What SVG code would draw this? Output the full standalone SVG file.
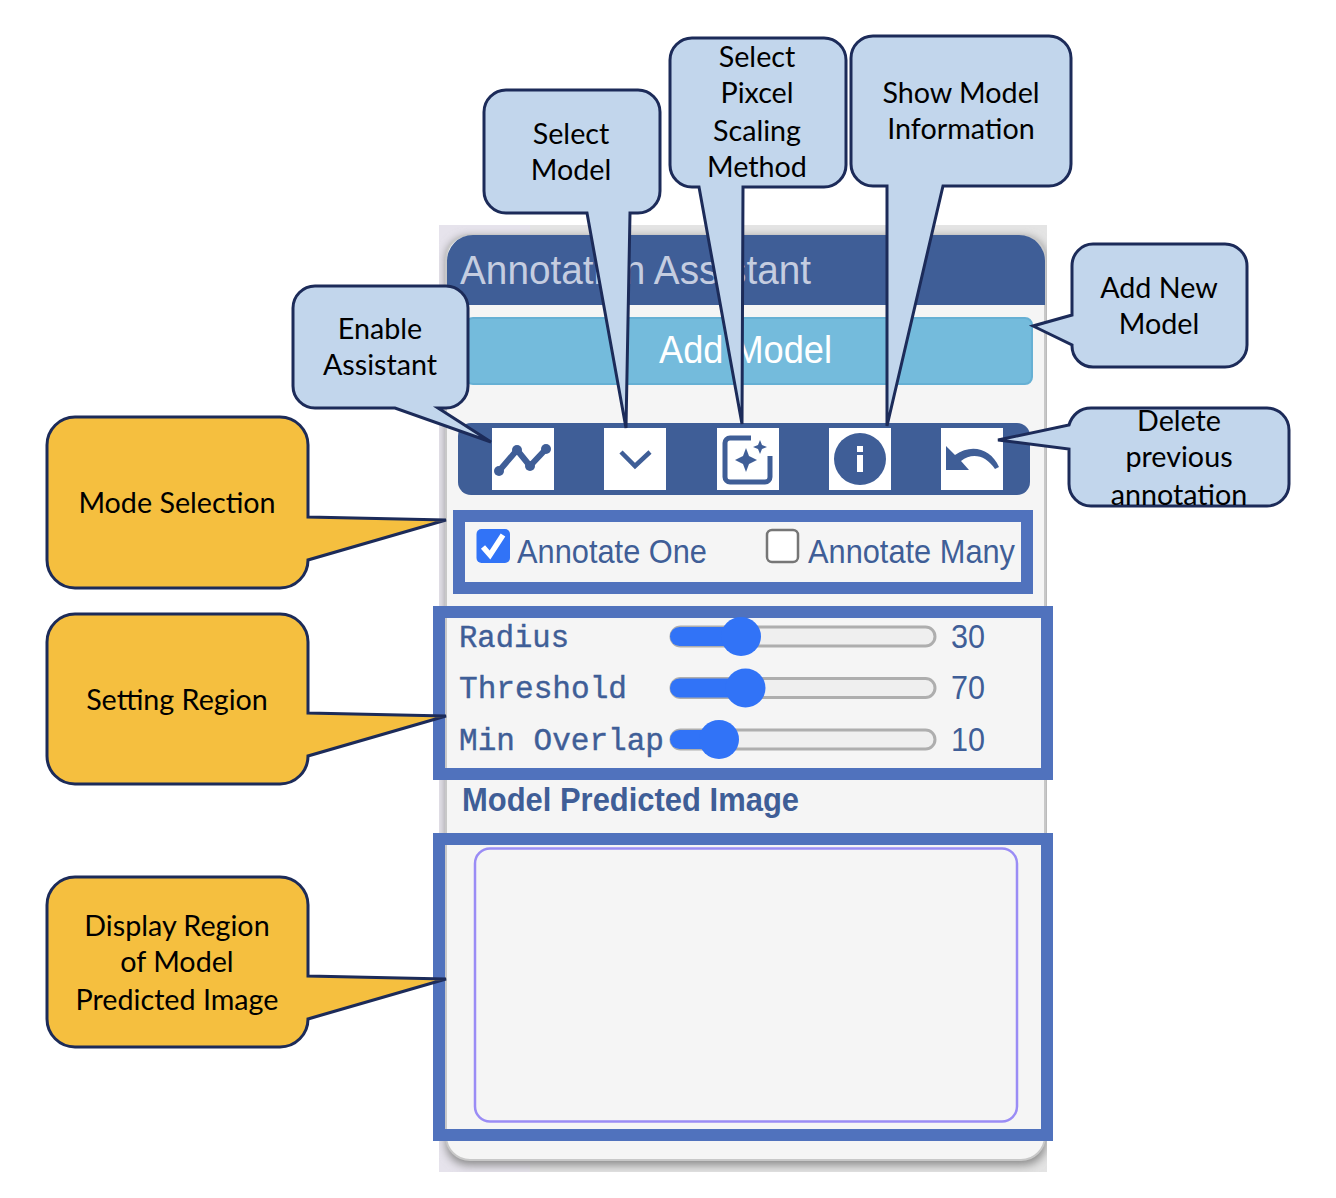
<svg xmlns="http://www.w3.org/2000/svg" width="1336" height="1198" viewBox="0 0 1336 1198">
<defs>
<style>
.co{fill:#c2d6ec;stroke:#1c2b59;stroke-width:3;stroke-linejoin:miter}
.or{fill:#f5bf3f;stroke:#1c2b59;stroke-width:3;stroke-linejoin:miter}
.t{font-family:"Lato","Liberation Sans",sans-serif;font-size:28.700px;fill:#000;text-anchor:middle}
.u{font-family:"Liberation Sans",Arial,sans-serif;fill:#3f5e97}
.m{font-family:"Liberation Mono",monospace;font-size:31px;fill:#3f5e97;stroke:#3f5e97;stroke-width:.4}
.frame{fill:none;stroke:#5072bd;stroke-width:12}
.btn{fill:#fff}
.track{fill:#efefef;stroke:#aeaeae;stroke-width:3}
.fillb{fill:#3173f7}
.ic{fill:none;stroke:#3f5e97;stroke-width:5;stroke-linecap:round;stroke-linejoin:round}
.icf{fill:#3f5e97}
</style>
<filter id="sh" x="-5%" y="-5%" width="110%" height="110%"><feGaussianBlur stdDeviation="5"/></filter>
<clipPath id="pc"><rect x="439" y="225" width="608" height="947"/></clipPath>
</defs>
<rect width="1336" height="1198" fill="#fff"/>
<g id="panel">
<rect x="439" y="225" width="608" height="947" fill="#e6e3ec"/>
<rect x="530" y="225" width="517" height="947" fill="#e4e4e4"/>
<g clip-path="url(#pc)"><rect x="446" y="237" width="600" height="928" rx="22" fill="#8a8a8a" filter="url(#sh)"/></g>
<rect x="446" y="235" width="599" height="925" rx="24" fill="#f5f5f5" stroke="#c8c8c8" stroke-width="2"/>
<path d="M447 305V262a26 26 0 0 1 26-27H1019a26 26 0 0 1 26 27V305Z" fill="#3f5e97"/>
<text id="panel-title" x="460" y="284" class="u" font-size="41" style="fill:#c5cde0" textLength="351" lengthAdjust="spacingAndGlyphs">Annotation Assistant</text>
</g>
<g id="add-model">
<rect x="466" y="318" width="566" height="66" rx="7" fill="#74bbdc" stroke="#66b0d4" stroke-width="2"/>
<text x="745.500" y="363" class="u" font-size="39" style="fill:#fff" text-anchor="middle" textLength="173" lengthAdjust="spacingAndGlyphs">Add Model</text>
</g>
<g id="toolbar">
<rect x="458" y="423" width="572" height="72" rx="13" fill="#3f5e97"/>
<g id="btn-line"><rect class="btn" x="492" y="428" width="62" height="62"/>
<path class="ic" d="M499 471L517 450L530 466L546 449" style="stroke-width:6"/><circle class="icf" cx="499" cy="471" r="5"/><circle class="icf" cx="517" cy="450" r="5"/><circle class="icf" cx="530" cy="466" r="5"/><circle class="icf" cx="546" cy="449" r="5"/></g>
<g id="btn-chevron"><rect class="btn" x="604" y="428" width="62" height="62"/>
<path class="ic" d="M621 452L635 466L650 452" style="stroke-linecap:butt;stroke-linejoin:miter;stroke-width:4.500"/></g>
<g id="btn-scale"><rect class="btn" x="717" y="428" width="62" height="62"/>
<path class="ic" d="M751 438H730a5 5 0 0 0-5 5V477a5 5 0 0 0 5 5H765a5 5 0 0 0 5-5V456" style="stroke-linecap:butt;stroke-width:5"/>
<path class="icf" d="M746 448L749 456L757 460L749 464L746 472L743 464L735 460L743 456Z"/><path class="icf" d="M760 440L762 445L767 447L762 449L760 454L758 449L753 447L758 445Z"/></g>
<g id="btn-info"><rect class="btn" x="829" y="428" width="62" height="62"/>
<ellipse class="icf" cx="860" cy="459" rx="26" ry="26"/><rect x="857" y="455" width="6" height="17" fill="#fff"/><rect x="857" y="446" width="6" height="6" fill="#fff"/></g>
<g id="btn-undo"><rect class="btn" x="941" y="428" width="62" height="62"/>
<path class="icf" d="M946 446L946 470L969 470L961 461C972 452 986 455 995 469L999 467C991 449 972 443 955 455Z"/></g>
</g>
<g id="mode-selection">
<rect class="frame" x="459" y="516" width="568" height="72"/>
<rect x="476.500" y="529" width="33.500" height="34" rx="5" fill="#3173f7"/>
<path d="M483 547L490 555L503 535" fill="none" stroke="#fff" stroke-width="5.500"/>
<text x="517" y="563" class="u" font-size="33.500" textLength="190" lengthAdjust="spacingAndGlyphs">Annotate One</text>
<rect x="767" y="530" width="31" height="32" rx="5" fill="#fff" stroke="#767676" stroke-width="2.500"/>
<text x="808" y="563" class="u" font-size="33.500" textLength="207" lengthAdjust="spacingAndGlyphs">Annotate Many</text>
</g>
<g id="settings">
<rect class="frame" x="439" y="612" width="608" height="162"/>
<text x="459" y="646.500" class="m" textLength="110" lengthAdjust="spacingAndGlyphs">Radius</text>
<text x="459" y="698" class="m" textLength="168" lengthAdjust="spacingAndGlyphs">Threshold</text>
<text x="459" y="750" class="m" textLength="205" lengthAdjust="spacingAndGlyphs">Min Overlap</text>
<g id="slider-radius"><rect class="track" x="671" y="627" width="264" height="19" rx="9.500"/><rect class="fillb" x="670" y="627" width="72" height="19" rx="9.500"/><ellipse class="fillb" cx="741" cy="636.500" rx="20" ry="19.500"/></g>
<g id="slider-threshold"><rect class="track" x="671" y="678.500" width="264" height="19" rx="9.500"/><rect class="fillb" x="670" y="678.500" width="76" height="19" rx="9.500"/><ellipse class="fillb" cx="745.500" cy="688" rx="20" ry="19.500"/></g>
<g id="slider-overlap"><rect class="track" x="671" y="730" width="264" height="19" rx="9.500"/><rect class="fillb" x="670" y="730" width="50" height="19" rx="9.500"/><ellipse class="fillb" cx="719" cy="739.500" rx="20" ry="19.500"/></g>
<text x="951" y="647.500" class="u" font-size="33" textLength="34" lengthAdjust="spacingAndGlyphs">30</text>
<text x="951" y="698.500" class="u" font-size="33" textLength="34" lengthAdjust="spacingAndGlyphs">70</text>
<text x="951" y="750.500" class="u" font-size="33" textLength="34" lengthAdjust="spacingAndGlyphs">10</text>
</g>
<g id="predicted-label"><text x="462" y="811" class="u" font-size="33" font-weight="700" textLength="337" lengthAdjust="spacingAndGlyphs">Model Predicted Image</text></g>
<g id="display-region">
<rect class="frame" x="439" y="839" width="608" height="296"/>
<rect x="475" y="848.500" width="542" height="273" rx="15" fill="#f5f5f5" stroke="#9a8cf5" stroke-width="2.500"/>
</g>
<g id="callout-mode"><path class="or" d="M75 417H280a28 28 0 0 1 28 28V517L446 520L308 560a28 28 0 0 1-28 28H75a28 28 0 0 1-28-28V445a28 28 0 0 1 28-28Z"/><text class="t" x="177" y="513">Mode Selection</text></g>
<g id="callout-setting"><path class="or" d="M75 614H280a28 28 0 0 1 28 28V713L446 716L308 756a28 28 0 0 1-28 28H75a28 28 0 0 1-28-28V642a28 28 0 0 1 28-28Z"/><text class="t" x="177" y="710">Setting Region</text></g>
<g id="callout-display"><path class="or" d="M75 877H280a28 28 0 0 1 28 28V976L446 979L308 1019a28 28 0 0 1-28 28H75a28 28 0 0 1-28-28V905a28 28 0 0 1 28-28Z"/><text class="t" x="177" y="936">Display Region</text><text class="t" x="177" y="972">of Model</text><text class="t" x="177" y="1010">Predicted Image</text></g>
<g id="callout-enable"><path class="co" d="M315 286H446a22 22 0 0 1 22 22V386a22 22 0 0 1-22 22H438L491 442L395 408H315a22 22 0 0 1-22-22V308a22 22 0 0 1 22-22Z"/><text class="t" x="380" y="339">Enable</text><text class="t" x="380" y="375">Assistant</text></g>
<g id="callout-model"><path class="co" d="M506 90H638a22 22 0 0 1 22 22V191a22 22 0 0 1-22 22H630L626 428L587 213H506a22 22 0 0 1-22-22V112a22 22 0 0 1 22-22Z"/><text class="t" x="571" y="144">Select</text><text class="t" x="571" y="180">Model</text></g>
<g id="callout-scaling"><path class="co" d="M692 38H824a22 22 0 0 1 22 22V165a22 22 0 0 1-22 22H743L742 424L699 187H692a22 22 0 0 1-22-22V60a22 22 0 0 1 22-22Z"/><text class="t" x="757" y="67">Select</text><text class="t" x="757" y="103">Pixcel</text><text class="t" x="757" y="141">Scaling</text><text class="t" x="757" y="177">Method</text></g>
<g id="callout-info"><path class="co" d="M873 36H1049a22 22 0 0 1 22 22V164a22 22 0 0 1-22 22H943L887 426V186H873a22 22 0 0 1-22-22V58a22 22 0 0 1 22-22Z"/><text class="t" x="961" y="103">Show Model</text><text class="t" x="961" y="139">Information</text></g>
<g id="callout-add"><path class="co" d="M1093 244H1225a22 22 0 0 1 22 22V345a22 22 0 0 1-22 22H1093a21 21 0 0 1-21-21V345L1033 326L1072 315V266a21 22 0 0 1 21-22Z"/><text class="t" x="1159" y="298">Add New</text><text class="t" x="1159" y="334">Model</text></g>
<g id="callout-delete"><path class="co" d="M1091 408H1267a22 22 0 0 1 22 22V484a22 22 0 0 1-22 22H1091a22 22 0 0 1-22-22V449L998 440L1069 425C1072 415 1080 408 1091 408Z"/><text class="t" x="1179" y="431">Delete</text><text class="t" x="1179" y="467">previous</text><text class="t" x="1179" y="505">annotation</text></g>
</svg>
